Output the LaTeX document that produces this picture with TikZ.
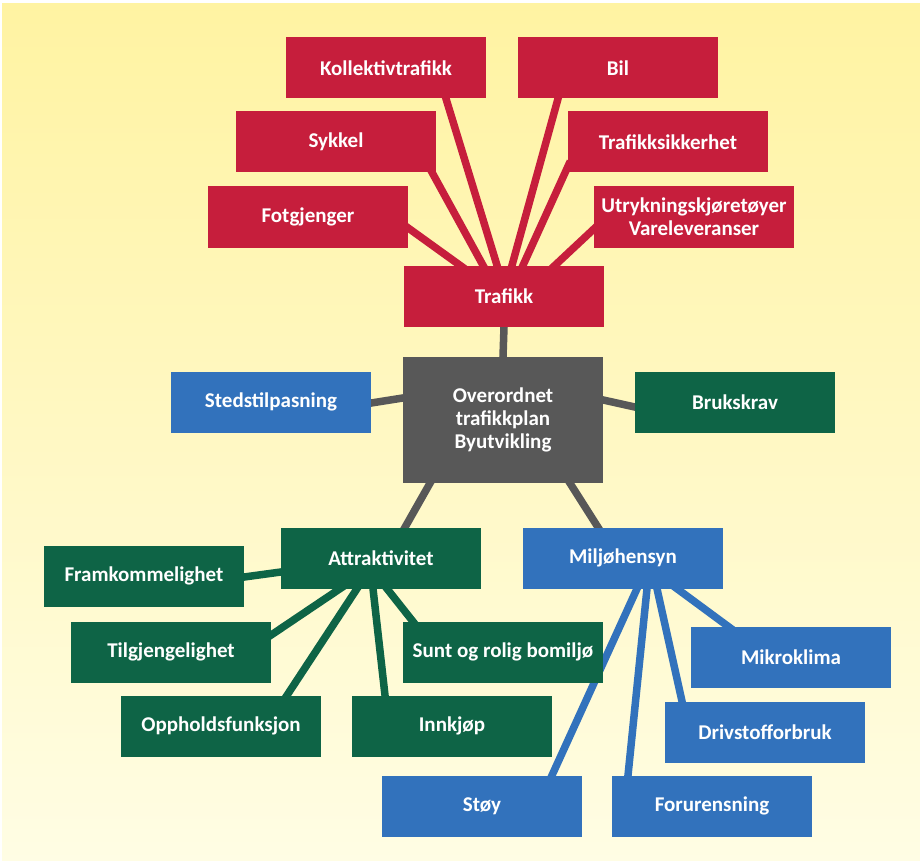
\documentclass[tikz,border=0pt]{standalone}
\usepackage{fontspec}
\setmainfont{Carlito}
\usepackage{tikz}
\usetikzlibrary{calc,backgrounds}
\definecolor{trafred}{RGB}{198,30,60}
\definecolor{plangreen}{RGB}{14,100,70}
\definecolor{planblue}{RGB}{50,114,188}
\definecolor{plangray}{RGB}{88,88,88}
\definecolor{paperyellow}{RGB}{255,243,162}
\definecolor{paperlight}{RGB}{255,253,228}
\tikzset{box/.style={rectangle, minimum width=200pt, minimum height=61pt, inner sep=0pt, text=white, align=center, font=\bfseries\fontsize{21}{23}\selectfont},
	link/.style={line width=7.5pt, shorten <=-6pt, shorten >=-6pt}}

\begin{document}
\begin{tikzpicture}[x=1pt,y=-1pt]
		\useasboundingbox (0,0) rectangle (920,861);
		\node[box,fill=trafred] (kollektiv) at (386,68) {Kollektivtrafikk};
		\node[box,fill=trafred] (bil) at (618,68) {Bil};
		\node[box,fill=trafred] (sykkel) at (336,142) {Sykkel};
		\node[box,fill=trafred] (sikkerhet) at (668,142) {Trafikksikkerhet};
		\node[box,fill=trafred] (fotgjenger) at (308,217) {Fotgjenger};
		\node[box,fill=trafred] (utrykning) at (694,217) {Utrykningskjøretøyer\\Vareleveranser};
		\node[box,fill=trafred] (trafikk) at (504,296) {Trafikk};
		\node[box,fill=plangray,minimum height=126pt] (plan) at (503,420) {Overordnet\\trafikkplan\\Byutvikling};
		\node[box,fill=planblue] (stedstil) at (271,402) {Stedstilpasning};
		\node[box,fill=plangreen] (bruk) at (735,402) {Brukskrav};
		\node[box,fill=plangreen] (attr) at (381,558) {Attraktivitet};
		\node[box,fill=planblue] (miljo) at (623,558) {Miljøhensyn};
		\node[box,fill=plangreen] (fram) at (144,576) {Framkommelighet};
		\node[box,fill=plangreen] (tilgj) at (171,652) {Tilgjengelighet};
		\node[box,fill=plangreen] (sunt) at (503,652) {Sunt og rolig bomiljø};
		\node[box,fill=plangreen] (opphold) at (221,726) {Oppholdsfunksjon};
		\node[box,fill=plangreen] (innkjop) at (452,726) {Innkjøp};
		\node[box,fill=planblue] (mikro) at (791,657) {Mikroklima};
		\node[box,fill=planblue] (drivstoff) at (765,732) {Drivstofforbruk};
		\node[box,fill=planblue] (stoy) at (482,806) {Støy};
		\node[box,fill=planblue] (forur) at (712,806) {Forurensning};
		\begin{scope}[on background layer]
			\fill[white] (0,0) rectangle (920,861);
			\shade[top color=paperyellow,bottom color=paperlight] (2,4) rectangle (920,861);
			\draw[link,trafred] ($(kollektiv.south)+(60,0)$) -- ($(trafikk.north)+(-7,0)$);
			\draw[link,trafred] ($(bil.south)+(-60,0)$) -- ($(trafikk.north)+(8,0)$);
			\draw[link,trafred] ($(sykkel.south east)+(-4,0)$) -- ($(trafikk.north)+(-21,0)$);
			\draw[link,trafred] ($(sikkerhet.south west)+(0,-6)$) -- ($(trafikk.north)+(19,0)$);
			\draw[link,trafred] ($(fotgjenger.east)+(0,11)$) -- ($(trafikk.north)+(-44,0)$);
			\draw[link,trafred] ($(utrykning.west)+(0,12)$) -- ($(trafikk.north)+(51,0)$);
			\draw[link,plangray] (trafikk.south) -- (plan.north);
			\draw[link,plangray] ($(stedstil.east)+(0,1)$) -- ($(plan.west)+(0,-22)$);
			\draw[link,plangray] ($(plan.east)+(0,-20)$) -- ($(bruk.west)+(0,5)$);
			\draw[link,plangray] ($(plan.south)+(-73,0)$) -- ($(attr.north)+(24,0)$);
			\draw[link,plangray] ($(plan.south)+(67,0)$) -- ($(miljo.north)+(-25,0)$);
			\draw[link,plangreen] ($(fram.east)+(0,1)$) -- ($(attr.west)+(0,14)$);
			\draw[link,plangreen] ($(attr.south)+(-41,0)$) -- ($(tilgj.east)+(0,-17)$);
			\draw[link,plangreen] ($(attr.south)+(-24,0)$) -- ($(opphold.north)+(66,0)$);
			\draw[link,plangreen] ($(attr.south)+(-8,0)$) -- ($(innkjop.north)+(-67,0)$);
			\draw[link,plangreen] ($(attr.south)+(6,0)$) -- ($(sunt.north west)+(10,0)$);
			\draw[link,planblue] ($(miljo.south)+(54,0)$) -- ($(mikro.north)+(-63,0)$);
			\draw[link,planblue] ($(miljo.south)+(34,0)$) -- ($(drivstoff.north)+(-83,0)$);
			\draw[link,planblue] ($(miljo.south)+(24,0)$) -- ($(forur.north)+(-84,0)$);
			\draw[link,planblue] ($(miljo.south)+(14,0)$) -- ($(stoy.north)+(70,0)$);
		\end{scope}
\end{tikzpicture}
\end{document}
